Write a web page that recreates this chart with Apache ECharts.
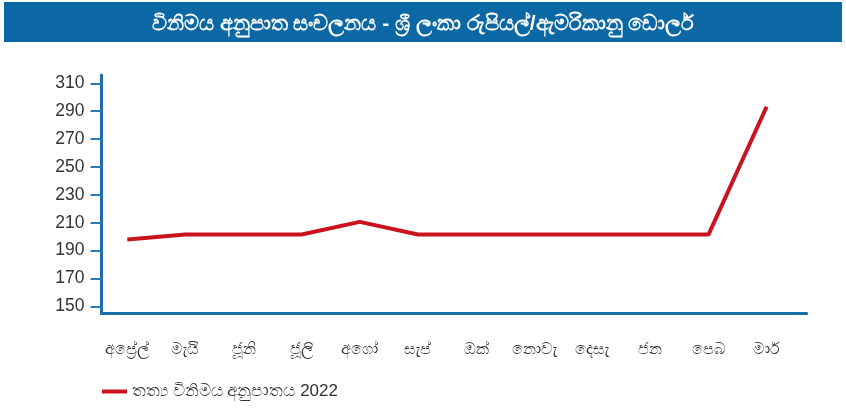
<!DOCTYPE html>
<html>
<head>
<meta charset="utf-8">
<script src="https://cdn.jsdelivr.net/npm/echarts@6/dist/echarts.min.js"></script>
<style>
    html, body { margin: 0; padding: 0; background: #fff; }
    #main { width: 846px; height: 414px; }
</style>
</head>
<body>
<div id="main"></div>
<script>
// මාස (x අක්ෂය)
var months = ['අප්‍රේල්', 'මැයි', 'ජූනි', 'ජූලි', 'අගෝ', 'සැප්', 'ඔක්', 'නොවැ', 'දෙසැ', 'ජන', 'පෙබ', 'මාර්'];
// රු/ඩොලර් අගයන්
var rates = [197.9, 201.5, 201.5, 201.5, 210.6, 201.5, 201.5, 201.5, 201.5, 201.5, 201.5, 293.2];
// y අක්ෂයේ ලේබල
var yTicks = [150, 170, 190, 210, 230, 250, 270, 290, 310];
var titleText = 'විනිමය අනුපාත සංචලනය - ශ්‍රී ලංකා රුපියල්/ඇමරිකානු ඩොලර්';
var seriesName = 'තත්‍ය විනිමය අනුපාතය 2022';

var font = "'Liberation Sans', Arial, 'Noto Sans', sans-serif";
var chart = echarts.init(document.getElementById('main'));

var points = [];
for (var i = 0; i < rates.length; i++) {
    points.push([i, rates[i]]);
}
var xTicks = months.map(function (m, i) { return i; });

var option = {
    animation: false,
    textStyle: { fontFamily: font },
    graphic: [{
        type: 'rect',
        left: 4,
        top: 2,
        shape: { width: 838, height: 40 },
        style: { fill: '#0c68a4' },
        z: 0
    }],
    title: {
        text: titleText,
        left: 'center',
        top: 9,
        textStyle: {
            color: '#fff',
            fontSize: 21,
            fontWeight: 'bold',
            fontFamily: font
        }
    },
    legend: {
        left: 97,
        top: 378,
        icon: 'rect',
        itemWidth: 25,
        itemHeight: 4,
        textStyle: { color: '#333', fontSize: 17 },
        data: [seriesName]
    },
    grid: {
        left: 101.5,
        right: 39.3,
        top: 75,
        bottom: 100.7,
        outerBoundsMode: 'none'
    },
    xAxis: {
        type: 'value',
        min: -0.444,
        max: 11.69,
        splitLine: { show: false },
        axisLine: { show: true, onZero: false, lineStyle: { color: '#1a6fa8', width: 3 } },
        axisTick: { show: false },
        axisLabel: {
            customValues: xTicks,
            margin: 28,
            color: '#333',
            fontSize: 16,
            formatter: function (v) { return months[v]; }
        }
    },
    yAxis: {
        type: 'value',
        min: 145,
        max: 316,
        splitLine: { show: false },
        axisLine: { show: true, onZero: false, lineStyle: { color: '#1a6fa8', width: 3 } },
        axisTick: {
            show: true,
            customValues: yTicks,
            length: 11,
            lineStyle: { color: '#2b7bb5', width: 2 }
        },
        axisLabel: {
            customValues: yTicks,
            margin: 17,
            color: '#333',
            fontSize: 17.5
        }
    },
    series: [{
        name: seriesName,
        type: 'line',
        data: points,
        symbol: 'none',
        color: '#c8141f',
        lineStyle: { color: '#c8141f', width: 4 }
    }]
};

chart.setOption(option);
</script>
</body>
</html>
